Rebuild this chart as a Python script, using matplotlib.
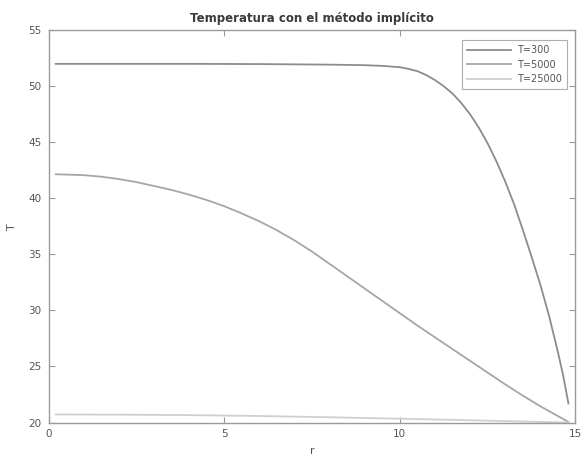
import matplotlib
matplotlib.use("Agg")
import matplotlib.pyplot as plt

# radial positions and temperature profiles
r_300 = [0.2, 2, 4, 6, 8, 9, 9.5, 10, 10.25, 10.5, 10.75, 11, 11.25, 11.5, 11.75, 12,
         12.25, 12.5, 12.75, 13, 13.25, 13.5, 13.75, 14, 14.25, 14.5, 14.65, 14.8]
T_300 = [52.0, 52.0, 52.0, 51.98, 51.93, 51.88, 51.82, 51.7, 51.55, 51.35, 51.0, 50.55,
         50.0, 49.35, 48.5, 47.5, 46.3, 44.9, 43.3, 41.5, 39.5, 37.2, 34.8, 32.3, 29.5,
         26.3, 24.2, 21.7]

r_5000 = [0.2, 1, 1.5, 2, 2.5, 3, 3.5, 4, 4.5, 5, 5.5, 6, 6.5, 7, 7.5, 8, 8.5, 9, 9.5,
          10, 10.5, 11, 11.5, 12, 12.5, 13, 13.5, 14, 14.4, 14.8]
T_5000 = [42.15, 42.07, 41.93, 41.72, 41.45, 41.1, 40.75, 40.33, 39.85, 39.3, 38.65,
          37.95, 37.15, 36.25, 35.25, 34.15, 33.05, 31.95, 30.85, 29.75, 28.65, 27.6,
          26.55, 25.5, 24.45, 23.4, 22.4, 21.45, 20.75, 20.05]

r_25000 = [0.2, 2, 4, 6, 8, 10, 12, 14, 14.8]
T_25000 = [20.72, 20.7, 20.66, 20.58, 20.47, 20.34, 20.2, 20.05, 20.0]

labels = ["T=300", "T=5000", "T=25000"]
line_colors = ["#8c8c8c", "#a6a6a6", "#cfcfcf"]
x_ticks = [0, 5, 10, 15]
y_ticks = [20, 25, 30, 35, 40, 45, 50, 55]

fig = plt.figure(figsize=(5.86, 4.58), dpi=100)
ax = fig.add_axes([0.083, 0.0775, 0.899, 0.8565])

ax.plot(r_300, T_300, color=line_colors[0], lw=1.3, label=labels[0])
ax.plot(r_5000, T_5000, color=line_colors[1], lw=1.3, label=labels[1])
ax.plot(r_25000, T_25000, color=line_colors[2], lw=1.3, label=labels[2])

ax.set_xlim(0, 15)
ax.set_ylim(20, 55)
ax.set_xticks(x_ticks)
ax.set_yticks(y_ticks)

axis_gray = "#9a9a9a"
text_gray = "#555555"
for s in ax.spines.values():
    s.set_color(axis_gray)
    s.set_linewidth(1.0)
ax.tick_params(direction="in", length=4, width=0.8, color=axis_gray,
               labelsize=7.5, labelcolor=text_gray, top=True, right=True, pad=5)

ax.set_title("Temperatura con el método implícito", fontsize=8.5, color="#3a3a3a",
             fontweight="semibold", pad=6)
ax.set_xlabel("r", fontsize=8, color=text_gray, labelpad=5)
ax.set_ylabel("T", fontsize=8, color=text_gray, labelpad=8, rotation=90)

leg = ax.legend(loc="upper right", bbox_to_anchor=(567 / 586, 1 - 40 / 458),
                bbox_transform=fig.transFigure, fontsize=7, frameon=True,
                fancybox=False, handlelength=4.5, borderaxespad=0, borderpad=0.55,
                labelspacing=0.45, handletextpad=0.6)
leg.get_frame().set_edgecolor(axis_gray)
leg.get_frame().set_linewidth(0.8)
for t in leg.get_texts():
    t.set_color(text_gray)

fig.savefig("out.png", dpi=100)
